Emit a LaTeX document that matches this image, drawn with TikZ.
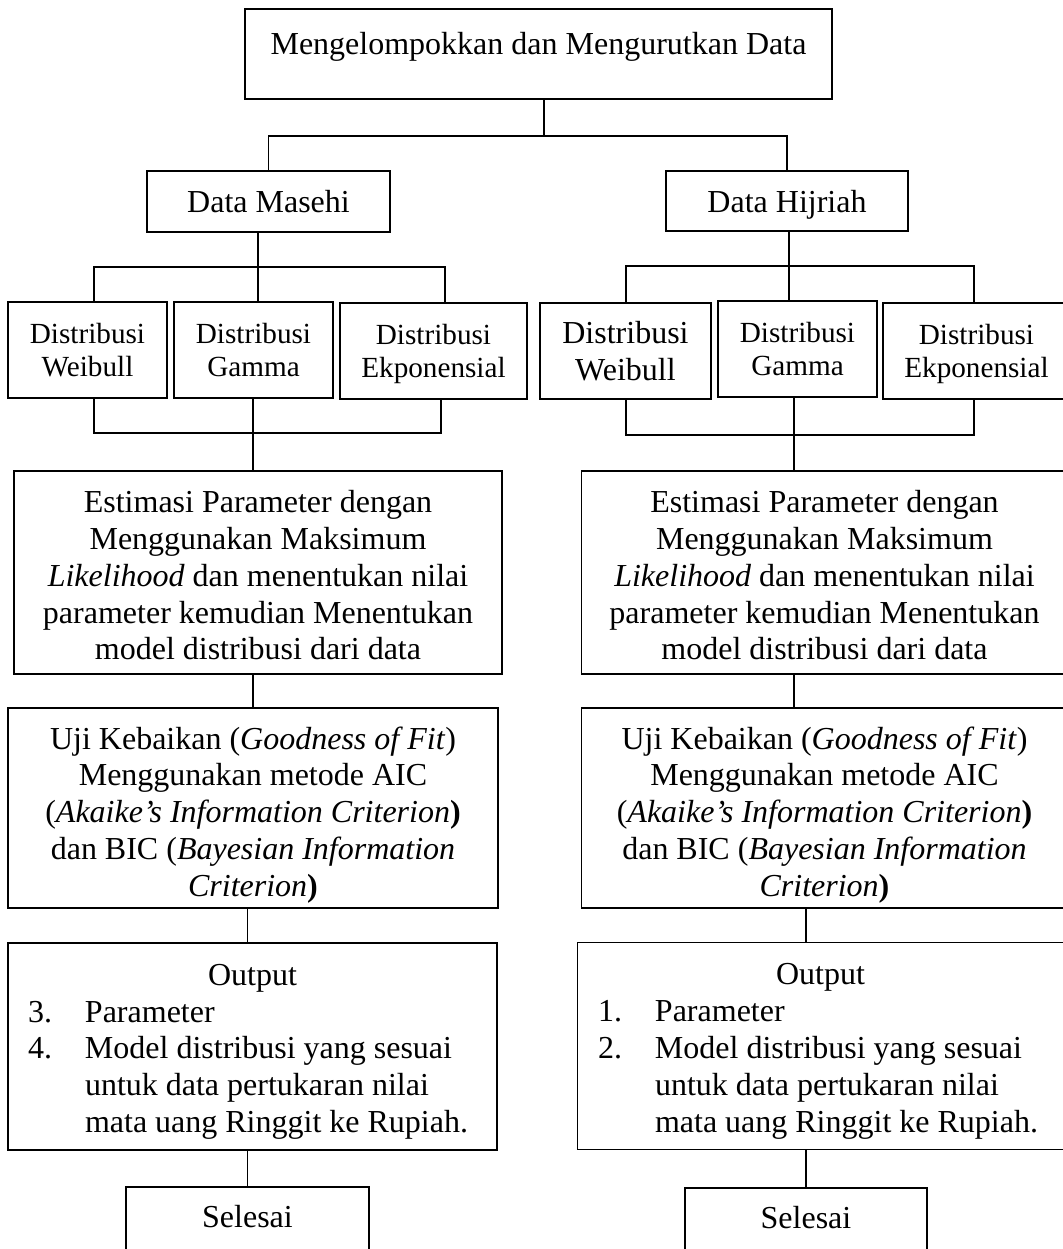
\documentclass[tikz,border=0pt]{standalone}
\usepackage{fontspec}
\setmainfont{Liberation Serif}
\begin{document}
\begin{tikzpicture}[x=0.5pt,y=-0.5pt,
    kotak/.style={draw,line width=0.9pt,align=center,inner sep=0pt,
      font=\fontsize{16}{18.4}\selectfont},
    dist/.style={kotak,minimum height=48pt,text depth=0pt,font=\fontsize{14.6}{16.5}\selectfont},
    garis/.style={line width=0.8pt}]
\useasboundingbox (0,0) rectangle (1063,1249);

% judul
\node[kotak,minimum width=293.5pt,text height=22.5pt,text depth=22.5pt] (urut) at (538.5,54) {Mengelompokkan dan Mengurutkan Data};

% dua kelompok data
\node[kotak,minimum width=121.5pt,minimum height=30.5pt,text depth=0pt] (masehi) at (268.5,201.5) {Data Masehi};
\node[kotak,minimum width=121pt,minimum height=30pt,text depth=0pt] (hijriah) at (787,201) {Data Hijriah};

% distribusi
\node[dist,minimum width=79.5pt] (mWeibull) at (87.5,350) {Distribusi\\Weibull};
\node[dist,minimum width=79.5pt] (mGamma) at (253.5,350) {Distribusi\\Gamma};
\node[dist,minimum width=93.5pt] (mEkspo) at (433.5,351) {Distribusi\\Ekponensial};
\node[dist,minimum width=85.5pt,font=\fontsize{16}{18.5}\selectfont] (hWeibull) at (625.5,351) {Distribusi\\Weibull};
\node[dist,minimum width=79.5pt] (hGamma) at (797.5,349) {Distribusi\\Gamma};
\node[dist,minimum width=93.5pt] (hEkspo) at (976.5,351) {Distribusi\\Ekponensial};

% estimasi
\node[kotak,minimum width=244pt,minimum height=101.5pt] (estM) at (258,572.5) {\rule{0pt}{14pt}Estimasi Parameter dengan\\Menggunakan Maksimum\\\textit{Likelihood} dan menentukan nilai\\parameter kemudian Menentukan\\model distribusi dari data};
\node[kotak,minimum width=243pt,minimum height=101.5pt] (estH) at (824.5,572.5) {\rule{0pt}{14pt}Estimasi Parameter dengan\\Menggunakan Maksimum\\\textit{Likelihood} dan menentukan nilai\\parameter kemudian Menentukan\\model distribusi dari data};

% uji kebaikan
\node[kotak,minimum width=245pt,minimum height=100pt] (ujiM) at (253,808) {\rule{0pt}{18pt}Uji Kebaikan (\textit{Goodness of Fit})\\Menggunakan metode AIC\\(\textit{Akaike’s Information Criterion}\textbf{)}\\dan BIC (\textit{Bayesian Information}\\\textit{Criterion}\textbf{)}};
\node[kotak,minimum width=243pt,minimum height=100pt] (ujiH) at (824.5,808) {\rule{0pt}{18pt}Uji Kebaikan (\textit{Goodness of Fit})\\Menggunakan metode AIC\\(\textit{Akaike’s Information Criterion}\textbf{)}\\dan BIC (\textit{Bayesian Information}\\\textit{Criterion}\textbf{)}};

% output
\node[kotak,inner xsep=10pt,minimum width=244.5pt,minimum height=103.5pt] (outM) at (252.5,1046.5) {%
  \begin{tabular}{@{}p{28.5pt}@{}p{196pt}@{}}
    \multicolumn{2}{c}{\rule{0pt}{18pt}Output}\\
    3. & Parameter\\
    4. & Model distribusi yang sesuai\\
       & untuk data pertukaran nilai\\
       & mata uang Ringgit ke Rupiah.
  \end{tabular}};
\node[kotak,inner xsep=10pt,minimum width=243pt,minimum height=103.5pt] (outH) at (820.5,1046) {%
  \begin{tabular}{@{}p{28.5pt}@{}p{194pt}@{}}
    \multicolumn{2}{c}{\rule{0pt}{18pt}Output}\\
    1. & Parameter\\
    2. & Model distribusi yang sesuai\\
       & untuk data pertukaran nilai\\
       & mata uang Ringgit ke Rupiah.
  \end{tabular}};

% selesai
\node[kotak,minimum width=121.5pt,text height=20.5pt,text depth=20pt,anchor=north] (selesaiM) at (247.5,1186) {Selesai};
\node[kotak,minimum width=121pt,text height=20.5pt,text depth=20pt,anchor=north] (selesaiH) at (806,1187) {Selesai};

% titik cabang
\coordinate (bagi) at (544,136);
\coordinate (mKiri) at (94,267);
\coordinate (mBar) at (258,267);
\coordinate (mKanan) at (445,267);
\coordinate (hKiri) at (626,266);
\coordinate (hBar) at (789,266);
\coordinate (hKanan) at (974,266);
\coordinate (mGabungKiri) at (94,433);
\coordinate (mGabung) at (253,433);
\coordinate (mGabungKanan) at (441,433);
\coordinate (hGabungKiri) at (626,435);
\coordinate (hGabung) at (794,435);
\coordinate (hGabungKanan) at (974,435);

% garis penghubung
\draw[garis] (urut.south -| bagi) -- (bagi);
\draw[garis] (masehi.north) |- (bagi) -| (hijriah.north);

\draw[garis] (masehi.south -| mBar) -- (mGamma.north -| mBar);
\draw[garis] (mWeibull.north -| mKiri) -- (mKiri) -- (mKanan) -- (mEkspo.north -| mKanan);
\draw[garis] (hijriah.south -| hBar) -- (hGamma.north -| hBar);
\draw[garis] (hWeibull.north -| hKiri) -- (hKiri) -- (hKanan) -- (hEkspo.north -| hKanan);

\draw[garis] (mWeibull.south -| mGabungKiri) -- (mGabungKiri) -- (mGabungKanan) -- (mEkspo.south -| mGabungKanan);
\draw[garis] (mGamma.south -| mGabung) -- (estM.north -| mGabung);
\draw[garis] (hWeibull.south -| hGabungKiri) -- (hGabungKiri) -- (hGabungKanan) -- (hEkspo.south -| hGabungKanan);
\draw[garis] (hGamma.south -| hGabung) -- (estH.north -| hGabung);

\draw[garis] (estM.south -| ujiM.north) -- (ujiM.north);
\draw[garis] (estH.south -| hGabung) -- (ujiH.north -| hGabung);
\draw[garis] (ujiM.south -| selesaiM) -- (outM.north -| selesaiM);
\draw[garis] (ujiH.south -| selesaiH) -- (outH.north -| selesaiH);
\draw[garis] (outM.south -| selesaiM) -- (selesaiM.north);
\draw[garis] (outH.south -| selesaiH) -- (selesaiH.north);
\end{tikzpicture}
\end{document}
